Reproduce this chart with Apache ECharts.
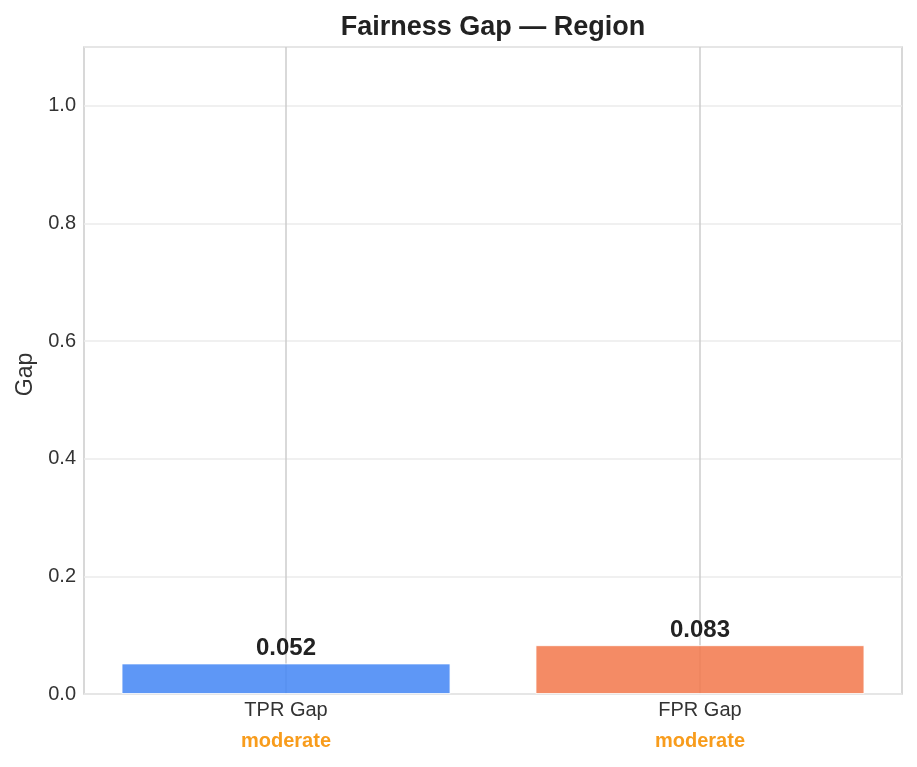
<!DOCTYPE html>
<html><head><meta charset="utf-8">
<script src="https://cdn.jsdelivr.net/npm/echarts@6/dist/echarts.min.js"></script>
<style>html,body{margin:0;padding:0;background:#fff}#c{width:917px;height:767px}</style>
</head><body><div id="c"></div>
<script>
const categories = ['TPR Gap', 'FPR Gap'];
const gapValues = [0.052, 0.083];
const statusLabels = ['moderate', 'moderate'];
const barColors = ['rgba(66,133,244,0.85)', 'rgba(242,119,74,0.85)'];
const yTicks = [0, 0.2, 0.4, 0.6, 0.8, 1.0];

const FONT = '"Liberation Sans", Arial, sans-serif';
const chart = echarts.init(document.getElementById('c'));
chart.setOption({
  animation: false,
  title: {
    text: 'Fairness Gap — Region', left: 488, textAlign: 'center', top: 9,
    textStyle: { fontFamily: FONT, fontSize: 27, fontWeight: 'bold', color: '#222' }
  },
  grid: { left: 84, right: 15, top: 47, bottom: 73, show: true, borderColor: '#cccccc', borderWidth: 1.5 },
  xAxis: {
    type: 'value', min: -0.488, max: 1.488,
    axisLine: { show: false }, axisTick: { show: false }, splitLine: { show: false },
    axisLabel: {
      margin: 2,
      customValues: [0, 1],
      formatter: function (v) {
        const i = Math.round(v);
        return '{a|' + categories[i] + '}\n{b|' + statusLabels[i] + '}';
      },
      rich: {
        a: { fontFamily: FONT, fontSize: 20, color: '#333', lineHeight: 28 },
        b: { fontFamily: FONT, fontSize: 20, fontWeight: 'bold', color: '#f89c1c', lineHeight: 34 }
      }
    }
  },
  yAxis: {
    type: 'value', min: 0, max: 1.1, interval: 0.2,
    name: 'Gap', nameLocation: 'middle', nameGap: 46,
    nameTextStyle: { fontFamily: FONT, fontSize: 23, color: '#333', padding: [0, 8, 0, 0] },
    axisLine: { show: false }, axisTick: { show: false },
    axisLabel: {
      fontFamily: FONT, fontSize: 20, color: '#333', margin: 8,
      formatter: function (v) { return yTicks.some(t => Math.abs(t - v) < 1e-9) ? v.toFixed(1) : ''; }
    },
    splitLine: { lineStyle: { color: '#ebebeb', width: 1.5 } }
  },
  series: [
    {
      type: 'line', data: [], silent: true, z: 1,
      markLine: {
        silent: true, symbol: 'none', label: { show: false },
        lineStyle: { color: '#cccccc', width: 1.5, type: 'solid' },
        data: categories.map((c, i) => ({ xAxis: i }))
      }
    },
    {
      type: 'bar', zlevel: 1, z: 2, barWidth: 329,
      data: gapValues.map((v, i) => ({
        value: [i, v],
        itemStyle: { color: barColors[i], borderColor: 'rgba(255,255,255,0.8)', borderWidth: 1 }
      })),
      label: {
        show: true, position: 'top', distance: 3,
        fontFamily: FONT, fontSize: 24, fontWeight: 'bold', color: '#222',
        formatter: p => p.value[1].toFixed(3)
      }
    }
  ]
});
</script></body></html>
